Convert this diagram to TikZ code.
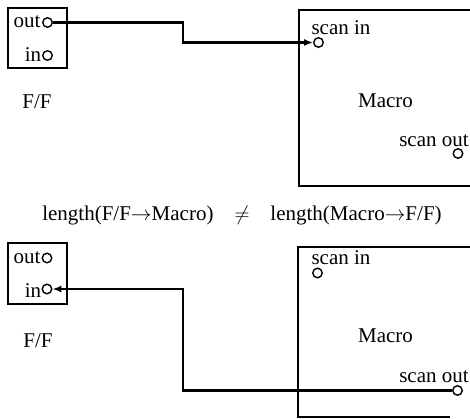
\documentclass[tikz,border=0pt]{standalone}
\usepackage{fontspec}
\setmainfont{Liberation Serif}
\usetikzlibrary{arrows.meta}
\begin{document}
\begin{tikzpicture}[x=1pt,y=-1pt,
 lbl/.style={font=\fontsize{21}{25}\selectfont, inner sep=0pt, anchor=base},
 box/.style={draw, line width=1.4pt},
 port/.style={circle, draw, line width=1.4pt, minimum size=9.5pt, inner sep=0pt, fill=white},
 wire/.style={line width=2.8pt, line join=miter},
 arr/.style={-{Latex[length=9pt,width=7pt]}}]
\useasboundingbox (0,0) rectangle (470,419);
\clip (0,0) rectangle (470,419);
% ---------- top panel ----------
\draw[box] (8,8) rectangle (67,68);
\node[lbl] (out1) at (27,28) {out};
\node[lbl] (in1) at (33,62) {in};
\node[port] (o1) at (47.5,22.5) {};
\node[port] (i1) at (47.5,55.5) {};
\node[lbl] (ff1) at (37,109) {F/F};
\draw[box] (480,10) -- (299,10) -- (299,186) -- (480,186);
\node[lbl] (sin1) at (341,35) {scan in};
\node[port] (si1) at (318.5,42.5) {};
\node[lbl] (mac1) at (385.5,108) {Macro};
\node[lbl] (sout1) at (434,147) {scan out};
\node[port] (so1) at (458,153.5) {};
\coordinate (bx) at (183,0);
\draw[wire,arr] (o1.east) -- (o1.east -| bx) |- (si1.west);
% ---------- middle ----------
\node[lbl] (eq) at (242,221) {length(F/F$\rightarrow$Macro)\quad$\neq$\quad length(Macro$\rightarrow$F/F)};
% ---------- bottom panel ----------
\draw[box] (8,243) rectangle (67,304);
\node[lbl] (out2) at (27,263) {out};
\node[lbl] (in2) at (33,297) {in};
\node[port] (o2) at (47,258) {};
\node[port] (i2) at (47,289) {};
\node[lbl] (ff2) at (38,347) {F/F};
\draw[box] (480,247) -- (298,247) -- (298,417) -- (450,417);
\node[lbl] (sin2) at (341,264) {scan in};
\node[port] (si2) at (317.5,273) {};
\node[lbl] (mac2) at (385.5,342) {Macro};
\node[lbl] (sout2) at (434,382) {scan out};
\node[port] (so2) at (457.5,390.5) {};
\draw[wire,arr] (so2.west) -- (so2.west -| bx) |- (i2.east);
\end{tikzpicture}
\end{document}
